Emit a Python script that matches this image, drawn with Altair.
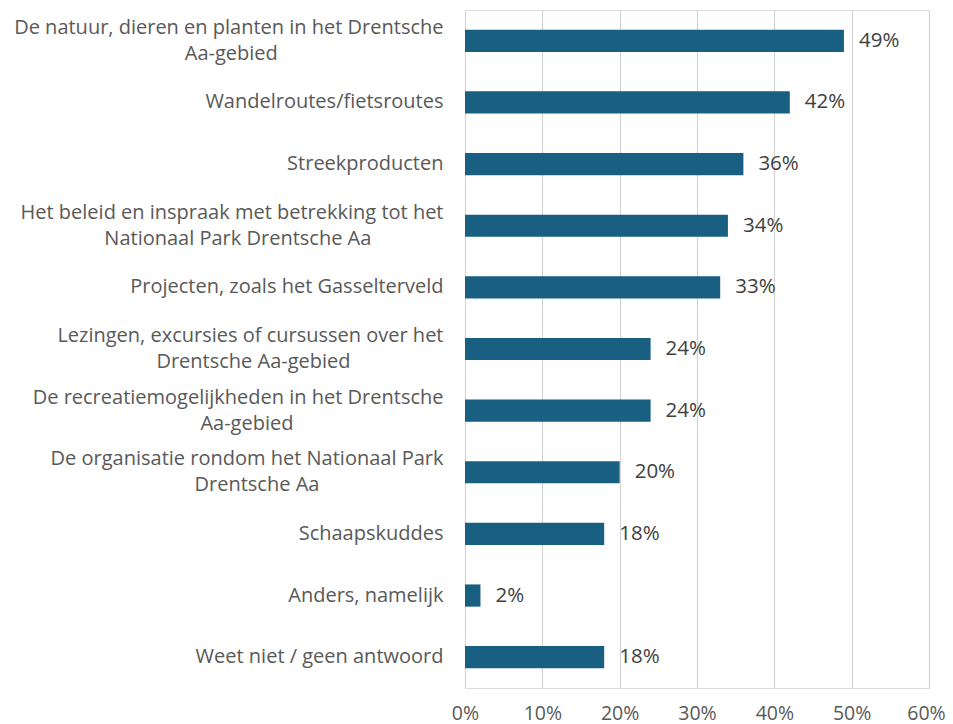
import altair as alt
import pandas as pd

categories = [
    "De natuur, dieren en planten in het Drentsche|Aa-gebied",
    "Wandelroutes/fietsroutes",
    "Streekproducten",
    "Het beleid en inspraak met betrekking tot het|Nationaal Park Drentsche Aa",
    "Projecten, zoals het Gasselterveld",
    "Lezingen, excursies of cursussen over het|Drentsche Aa-gebied",
    "De recreatiemogelijkheden in het Drentsche|Aa-gebied",
    "De organisatie rondom het Nationaal Park|Drentsche Aa",
    "Schaapskuddes",
    "Anders, namelijk",
    "Weet niet / geen antwoord",
]
values = [0.49, 0.42, 0.36, 0.34, 0.33, 0.24, 0.24, 0.20, 0.18, 0.02, 0.18]
x_ticks = [0, 0.1, 0.2, 0.3, 0.4, 0.5, 0.6]

df = pd.DataFrame({"cat": categories, "val": values})

FONT = "Open Sans"
TXT = "#595959"
NBSP = "\u00a0"
BLANK = "\u2800"  # blank, non-trimmed end character so the padding is kept

# second line of a two-line label is (approximately) centred under the first
L1 = "split(datum.label, '|')[0]"
L2 = "split(datum.label, '|')[1]"
NPAD = f"max(0, round((length({L1}) - length({L2})) * 1.025 - 7.7))"
label_expr = (
    f"indexof(datum.label, '|') >= 0 ? "
    f"[{L1}, pad({L2}, length({L2}) + {NPAD}, '{NBSP}', 'right') + '{BLANK}']"
    f" : datum.label"
)

y_enc = alt.Y(
    "cat:N",
    sort=categories,
    title=None,
    scale=alt.Scale(paddingInner=0.64, paddingOuter=0.32),
    axis=alt.Axis(
        labelExpr=label_expr,
        labelFont=FONT,
        labelFontSize=20,
        labelColor=TXT,
        labelLineHeight=26,
        labelPadding=22,
        labelLimit=700,
        labelOffset={"condition": {"test": "indexof(datum.label, '|') >= 0", "value": -13}, "value": 0},
        ticks=False,
        domain=False,
        grid=False,
    ),
)

bars = alt.Chart(df).mark_bar(color="#185f82").encode(
    x=alt.X(
        "val:Q",
        title=None,
        scale=alt.Scale(domain=[0, 0.6], nice=False),
        axis=alt.Axis(
            values=x_ticks,
            format=".0%",
            labelFont=FONT,
            labelFontSize=19.5,
            labelColor=TXT,
            labelPadding=16,
            labelFlush=False,
            labelOffset={"condition": {"test": "datum.value > 0.55", "value": -3}, "value": 0},
            ticks=False,
            domain=False,
            grid=True,
            gridColor="#d4d4d4",
            gridWidth=1.2,
        ),
    ),
    y=y_enc,
)

labels = alt.Chart(df).mark_text(
    align="left", baseline="middle", dx=15, font=FONT, fontSize=20.5, color="#404040"
).encode(
    x="val:Q",
    y=alt.Y("cat:N", sort=categories),
    text=alt.Text("val:Q", format=".0%"),
)

chart = (
    alt.layer(bars, labels)
    .properties(
        width=464,
        height=678,
        autosize=alt.AutoSizeParams(type="none"),
        padding={"left": 457, "top": 2, "right": 16, "bottom": 36},
    )
    .configure_view(stroke=None)
    .configure(background="white")
)

chart.save("out.html", embed_options={"renderer": "svg", "actions": False})
